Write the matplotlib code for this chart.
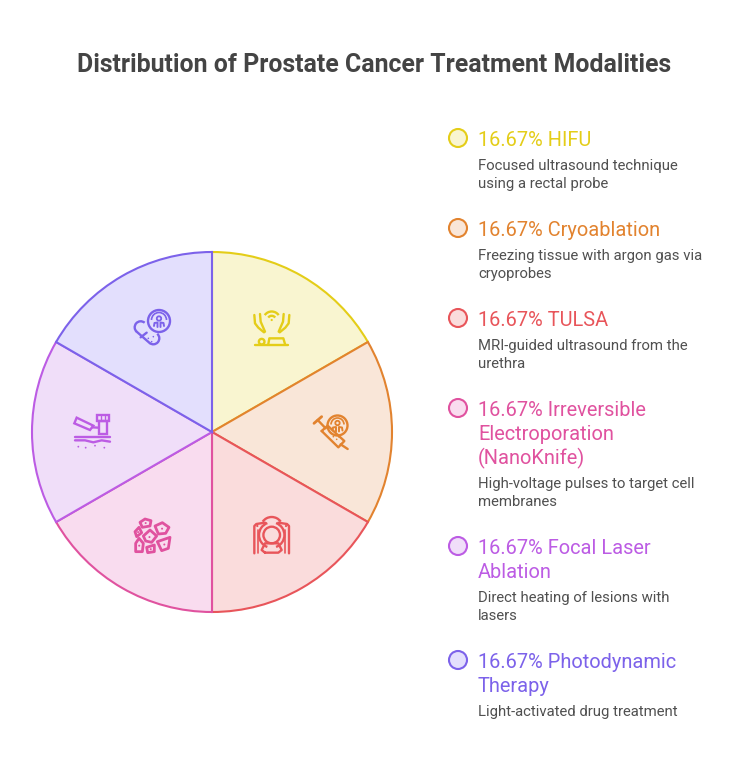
import matplotlib
matplotlib.use('Agg')
import matplotlib.pyplot as plt
from matplotlib.patches import Circle, Polygon, Rectangle, Arc

# chart data
shares = [16.67, 16.67, 16.67, 16.67, 16.67, 16.67]
names = ['HIFU', 'Cryoablation', 'TULSA', 'Irreversible\nElectroporation\n(NanoKnife)',
         'Focal Laser\nAblation', 'Photodynamic\nTherapy']
descriptions = ['Focused ultrasound technique\nusing a rectal probe',
                'Freezing tissue with argon gas via\ncryoprobes',
                'MRI-guided ultrasound from the\nurethra',
                'High-voltage pulses to target cell\nmembranes',
                'Direct heating of lesions with\nlasers',
                'Light-activated drug treatment']
colors = ['#e4cd18', '#e2832f', '#e8555a', '#e0529f', '#bc5ce4', '#7c62ea']
fills = ['#f9f5d0', '#f9e6d8', '#fadcdc', '#f9dcef', '#f0def9', '#e3dffd']
# y pixel of each legend heading (first line)
legend_y = [138, 228, 318, 408, 546, 660]

W, H = 748, 768
TEXT = '#444444'
DESC = '#505050'
plt.rcParams['font.family'] = ['Roboto', 'DejaVu Sans']

fig = plt.figure(figsize=(W / 100, H / 100), dpi=100, facecolor='white')

# pie, centre 212,432 radius 180 px
cx, cy, r = 212, 432, 180
pie_ax = fig.add_axes([(cx - r) / W, 1 - (cy + r) / H, 2 * r / W, 2 * r / H])
wedges, _ = pie_ax.pie(shares, startangle=90, counterclock=False, radius=1, colors=fills,
                       wedgeprops={'linewidth': 0})
pie_ax.set_xlim(-1, 1)
pie_ax.set_ylim(-1, 1)
for w, c in zip(wedges, colors):
    w.set_edgecolor(c)
    w.set_linewidth(1.5)
    w.set_clip_on(False)

# overlay in pixel coords for icons and text
ax = fig.add_axes([0, 0, 1, 1], facecolor='none')
ax.set_xlim(0, W)
ax.set_ylim(H, 0)
ax.axis('off')

ax.text(374, 64.5, 'Distribution of Prostate Cancer Treatment Modalities', ha='center', va='center',
        fontsize=17.9, fontweight='bold', color=TEXT)

LINE_HEADING = 24
for i, y in enumerate(legend_y):
    ax.add_patch(Circle((458, y), 9, facecolor=fills[i], edgecolor=colors[i], lw=1.5))
    label = names[i].split('\n')
    for j, part in enumerate(label):
        prefix = f'{shares[i]:.2f}% ' if j == 0 else ''
        ax.text(478, y + 2 + j * LINE_HEADING, prefix + part, ha='left', va='center',
                fontsize=14.4, color=colors[i])
    y_desc = y + 1 + (len(label) - 1) * LINE_HEADING + 27
    for j, part in enumerate(descriptions[i].split('\n')):
        ax.text(478, y_desc + j * 18, part, ha='left', va='center', fontsize=10.75, color=DESC)


LW = 1.7


def crop(pts, ox, oy):
    # icon outlines were measured on 3x crops of the reference
    return [(ox + p[0] / 3, oy + p[1] / 3) for p in pts]


def pl(pts, c, lw=LW, closed=False):
    xs = [p[0] for p in pts]
    ys = [p[1] for p in pts]
    if closed:
        xs.append(xs[0])
        ys.append(ys[0])
    ax.plot(xs, ys, color=c, lw=lw, solid_capstyle='round', solid_joinstyle='round')


def ring(x, y, rad, c, lw=LW):
    ax.add_patch(Circle((x, y), rad, facecolor='none', edgecolor=c, lw=lw))


def arc(x, y, rad, t1, t2, c, lw=LW):
    ax.add_patch(Arc((x, y), 2 * rad, 2 * rad, theta1=t1, theta2=t2, color=c, lw=lw))


def dot(x, y, c, rad=1.1):
    ax.add_patch(Circle((x, y), rad, facecolor=c, edgecolor='none'))


def cell_badge(x, y, rad, c):
    # circle with the little cell figure used on two icons
    ring(x, y, rad, c)
    arc(x, y - 1, rad - 3.5, 180, 360, c, 1.2)
    ring(x, y - 2.5, 2.2, c, 1.3)
    pl([(x - 5, y + 5), (x - 4.5, y + 2), (x - 1.5, y + 1.5), (x - 1.5, y + 6)], c, 1.4)
    pl([(x + 5, y + 5), (x + 4.5, y + 2), (x + 1.5, y + 1.5), (x + 1.5, y + 6)], c, 1.4)


# HIFU icon
c = colors[0]
ox, oy = 230, 290
pl(crop([(76, 165), (175, 165)], ox, oy), c)
ring(*crop([(95, 155)], ox, oy)[0], 2.8, c)
pl(crop([(115, 162), (118, 145), (160, 145), (165, 162)], ox, oy), c)
arc(271.7, 320, 8.5, 215, 325, c)
arc(271.7, 320, 4.2, 215, 325, c)
dot(271.7, 320, c)
pl(crop([(73, 75), (75, 100), (85, 113), (102, 127)], ox, oy), c)
pl(crop([(90, 72), (92, 95), (105, 125)], ox, oy), c)
pl(crop([(178, 75), (176, 100), (166, 113), (149, 127)], ox, oy), c)
pl(crop([(161, 72), (159, 95), (146, 125)], ox, oy), c)

# cryoablation icon
c = colors[1]
ox, oy = 305, 405
cell_badge(337.5, 425.5, 10, c)
pl(crop([(27, 55), (50, 35)], ox, oy), c, 2.0)
pl(crop([(38, 45), (62, 70)], ox, oy), c)
pl(crop([(50, 78), (68, 62), (118, 108), (100, 127), (50, 78)], ox, oy), c)
pl(crop([(107, 118), (128, 132)], ox, oy), c)
for p in crop([(85, 95), (95, 103), (102, 96), (78, 84)], ox, oy):
    dot(p[0], p[1], c, 0.8)

# MRI icon
c = colors[2]
ox, oy = 245, 510
pl(crop([(28, 130), (28, 48), (34, 42), (60, 38)], ox, oy), c)
pl(crop([(132, 130), (132, 48), (126, 42), (100, 38)], ox, oy), c)
arc(271.7, 528, 11, 215, 325, c)
arc(271.7, 535, 12.7, 110, 250, c)
arc(271.7, 535, 12.7, 290, 430, c)
ring(271.7, 535, 8.3, c)
pl(crop([(40, 60), (40, 130)], ox, oy), c, 1.2)
pl(crop([(120, 60), (120, 130)], ox, oy), c, 1.2)
pl(crop([(60, 128), (50, 120), (60, 100), (100, 100), (110, 120), (100, 128), (60, 128)], ox, oy), c)
dot(*crop([(37, 48)], ox, oy)[0], c)
dot(*crop([(123, 48)], ox, oy)[0], c)

# cell cluster icon
c = colors[3]
cell_polys = [
    [(45, 37), (60, 27), (78, 32), (75, 48), (52, 52)],
    [(30, 65), (42, 52), (50, 68), (35, 80)],
    [(90, 48), (112, 38), (132, 52), (122, 70), (100, 72)],
    [(55, 78), (75, 60), (95, 78), (80, 97), (62, 93)],
    [(32, 100), (42, 85), (55, 100), (52, 125), (32, 125)],
    [(65, 112), (88, 105), (88, 125), (68, 128)],
    [(97, 95), (135, 82), (130, 115), (110, 122)],
]
for poly in cell_polys:
    pts = crop(poly, 125, 510)
    ax.add_patch(Polygon(pts, closed=True, facecolor='none', edgecolor=c, lw=2.0, joinstyle='round'))
    mx = sum(p[0] for p in pts) / len(pts)
    my = sum(p[1] for p in pts) / len(pts)
    dot(mx, my, c, 1.0)

# focal laser icon
c = colors[4]
ox, oy = 65, 405
ax.add_patch(Polygon(crop([(35, 38), (85, 62), (75, 75), (28, 55)], ox, oy), closed=True,
                     fill=False, ec=c, lw=LW))
pl(crop([(82, 67), (100, 68)], ox, oy), c)
head = crop([(95, 30), (133, 48)], ox, oy)
ax.add_patch(Rectangle(head[0], head[1][0] - head[0][0], head[1][1] - head[0][1],
                       facecolor='none', edgecolor=c, lw=LW))
body = crop([(102, 48), (125, 88)], ox, oy)
ax.add_patch(Rectangle(body[0], body[1][0] - body[0][0], body[1][1] - body[0][1],
                       facecolor='none', edgecolor=c, lw=LW))
pl(crop([(107, 34), (107, 42)], ox, oy), c, 1)
pl(crop([(120, 34), (120, 42)], ox, oy), c, 1)
pl(crop([(30, 97), (135, 97)], ox, oy), c)
pl(crop([(30, 106), (60, 106), (85, 112), (110, 106), (135, 110)], ox, oy), c)
for p in crop([(40, 125), (62, 128), (90, 122), (118, 128)], ox, oy):
    dot(p[0], p[1], c, 0.9)

# photodynamic icon
c = colors[5]
cell_badge(159, 321, 11, c)
ex, ey = 140.7, 327.3
fx, fy = 153.3, 338.3
arc(ex, ey, 6, 131, 311, c)
arc(fx, fy, 6, 311, 491, c)
pl([(ex - 3.9, ey + 4.5), (fx - 3.9, fy + 4.5)], c)
pl(crop([(62, 112), (80, 98)], 120, 300), c)
for p in crop([(85, 115), (95, 125), (100, 110)], 120, 300):
    dot(p[0], p[1], c, 0.8)

fig.savefig('out.png', dpi=100)
